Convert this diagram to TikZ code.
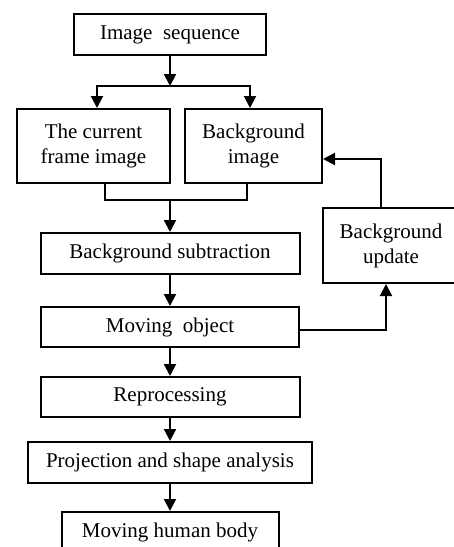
\documentclass[tikz,border=0pt]{standalone}
\usepackage{fontspec}
\setmainfont{Liberation Serif}
\usetikzlibrary{arrows.meta,positioning}

\begin{document}
\begin{tikzpicture}[
  x=0.5pt, y=-0.5pt,
  box/.style={draw, line width=1pt, align=center, inner sep=0pt, font=\fontsize{10.5}{12.5}\selectfont},
  arr/.style={-{Triangle[length=6pt,width=6pt]}, line width=1pt},
  ln/.style={line width=1pt}
]
\useasboundingbox (0,0) rectangle (454,547);
\node[box, minimum width=96pt, minimum height=20.5pt] (seq) at (170,34.5) {Image~ sequence};
\node[box, minimum width=76.5pt, minimum height=37pt] (cur) at (93.5,146) {The current\\ frame image};
\node[box, minimum width=68.5pt, minimum height=37pt] (bgimg) at (253.5,146) {Background\\ image};
\node[box, minimum width=129.5pt, minimum height=20.5pt] (sub) at (170,253.5) {Background subtraction};
\node[box, minimum width=68pt, minimum height=37.5pt] (upd) at (391,245.5) {Background\\ update};
\node[box, minimum width=129pt, minimum height=20pt] (mov) at (170,327) {Moving~ object};
\node[box, minimum width=129.5pt, minimum height=20pt] (rep) at (170,397) {Reprocessing};
\node[box, minimum width=142pt, minimum height=20.5pt] (proj) at (170,462.5) {Projection and shape analysis};
\node[box, minimum width=108.5pt, minimum height=20.5pt] (body) at (170,532.5) {Moving human body};
% split and merge points
\coordinate (split) at (170,86);
\coordinate (join) at (170,200);
\coordinate (up1) at (381,159);
\coordinate (up2) at (386,330);
\draw[arr] (seq) -- (split);
\draw[arr] (split) -| (cur.north -| 97,0);
\draw[arr] (split) -| (bgimg.north -| 250,0);
\draw[ln] (cur.south -| 105,0) |- (join) -| (bgimg.south -| 247,0);
\draw[arr] (join) -- (sub);
\draw[arr] (sub) -- (mov);
\draw[arr] (mov) -- (rep);
\draw[arr] (rep) -- (proj);
\draw[arr] (proj) -- (body);
\draw[arr] (mov.east |- up2) -| (upd.south -| up2);
\draw[arr] (upd.north -| up1) |- (bgimg.east |- up1);
\end{tikzpicture}
\end{document}
